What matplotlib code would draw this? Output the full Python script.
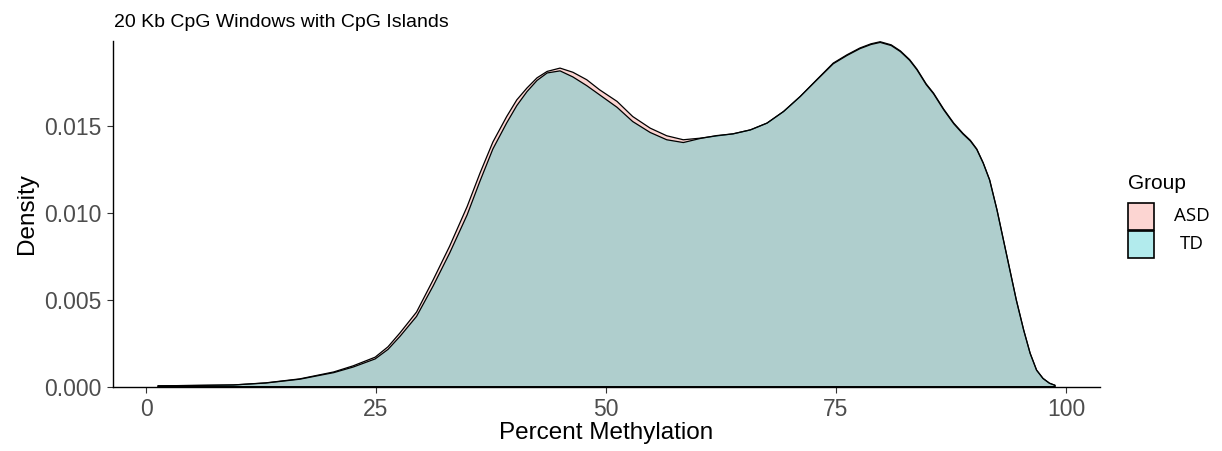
import numpy as np
import matplotlib.pyplot as plt
from matplotlib.patches import Rectangle
from matplotlib.colors import to_rgba

# values
pct = np.array([1.3, 5.0, 9.5, 13.0, 16.7, 20.4, 22.5, 24.9, 26.3, 27.6, 29.4, 31.2,
                33.0, 34.9, 36.3, 37.7, 39.2, 40.3, 41.4, 42.5, 43.6, 45.0, 46.4,
                47.9, 49.3, 51.2, 52.9, 54.8, 56.6, 58.4, 60.2, 62.0, 63.8, 65.7,
                67.5, 69.3, 71.1, 72.9, 74.7, 76.2, 77.6, 78.8, 79.8, 81.0, 82.0,
                83.0, 83.8, 84.8, 85.6, 86.7, 87.8, 88.8, 89.6, 90.3, 91.0, 91.7,
                92.5, 93.2, 93.9, 94.6, 95.4, 96.1, 96.8, 97.5, 98.2, 98.8])
asd = np.array([0.00005, 0.00007, 0.00010, 0.00022, 0.00045, 0.00085, 0.00120, 0.00170,
                0.00230, 0.00310, 0.00430, 0.00615, 0.00810, 0.01038, 0.01231, 0.01410,
                0.01557, 0.01653, 0.01721, 0.01780, 0.01817, 0.01836, 0.01812, 0.01769,
                0.01711, 0.01644, 0.01557, 0.01490, 0.01446, 0.01423, 0.01432, 0.01445,
                0.01457, 0.01480, 0.01519, 0.01586, 0.01672, 0.01769, 0.01865, 0.01913,
                0.01952, 0.01976, 0.01988, 0.01970, 0.01935, 0.01885, 0.01830, 0.01745,
                0.01692, 0.01600, 0.01519, 0.01460, 0.01420, 0.01370, 0.01290, 0.01192,
                0.01019, 0.00846, 0.00673, 0.00500, 0.00327, 0.00193, 0.00096, 0.00048,
                0.00020, 0.00008])
td = np.array([0.00005, 0.00007, 0.00010, 0.00021, 0.00043, 0.00081, 0.00113, 0.00160,
               0.00215, 0.00290, 0.00405, 0.00580, 0.00770, 0.00990, 0.01185, 0.01370,
               0.01520, 0.01620, 0.01700, 0.01765, 0.01808, 0.01820, 0.01785, 0.01735,
               0.01682, 0.01610, 0.01528, 0.01465, 0.01423, 0.01407, 0.01430, 0.01447,
               0.01457, 0.01480, 0.01519, 0.01586, 0.01672, 0.01767, 0.01861, 0.01909,
               0.01948, 0.01972, 0.01984, 0.01966, 0.01931, 0.01881, 0.01826, 0.01741,
               0.01688, 0.01596, 0.01515, 0.01456, 0.01416, 0.01367, 0.01288, 0.01190,
               0.01017, 0.00844, 0.00671, 0.00498, 0.00325, 0.00192, 0.00095, 0.00047,
               0.00020, 0.00008])
groups = ["ASD", "TD"]
colors = ["#F8766D", "#00BFC4"]

plt.rcParams["font.family"] = ["Liberation Sans", "DejaVu Sans"]

fig = plt.figure(figsize=(12.22, 4.51), dpi=100)
ax = fig.add_axes([0.0925, 0.1426, 0.8077, 0.7672])

for vals, c in zip([asd, td], colors):
    ax.fill_between(pct, 0, vals, facecolor=c, alpha=0.3, edgecolor="none")
    ax.fill_between(pct, 0, vals, facecolor="none", edgecolor="black", linewidth=0.9)

ax.set_xlim(-3.59, 103.7)
ax.set_ylim(0, 0.01994)
ax.set_xticks([0, 25, 50, 75, 100])
ax.set_yticks([0.0, 0.005, 0.010, 0.015])
ax.set_yticklabels(["0.000", "0.005", "0.010", "0.015"])
ax.tick_params(labelsize=16.5, labelcolor="#4D4D4D", length=4, width=0.8, color="#333333", pad=4)
for s in ["top", "right"]:
    ax.spines[s].set_visible(False)
for s in ["left", "bottom"]:
    ax.spines[s].set_linewidth(1.0)

ax.set_xlabel("Percent Methylation", fontsize=17.5, labelpad=1)
ax.set_ylabel("Density", fontsize=17.5, labelpad=5)
fig.text(114 / 1222, 1 - 27 / 451, "20 Kb CpG Windows with CpG Islands",
         fontsize=14, ha="left", va="baseline")

# legend (ggplot style: title, stacked square keys, centred labels)
fig.text(1128 / 1222, 1 - 189 / 451, "Group", fontsize=15, ha="left", va="baseline")
key_w, key_h = 25.5 / 1222, 27 / 451
for i, (g, c) in enumerate(zip(groups, colors)):
    top = 203 + i * 27.5
    fig.patches.append(Rectangle((1128 / 1222, 1 - (top + 27) / 451), key_w, key_h,
                                 transform=fig.transFigure, facecolor=to_rgba(c, 0.3),
                                 edgecolor="black", linewidth=1.2))
    fig.text(1192 / 1222, 1 - (top + 13.5) / 451, g, fontsize=13.5, ha="center", va="center",
             family=["Open Sans", "DejaVu Sans"])

fig.savefig("out.png", dpi=100)
